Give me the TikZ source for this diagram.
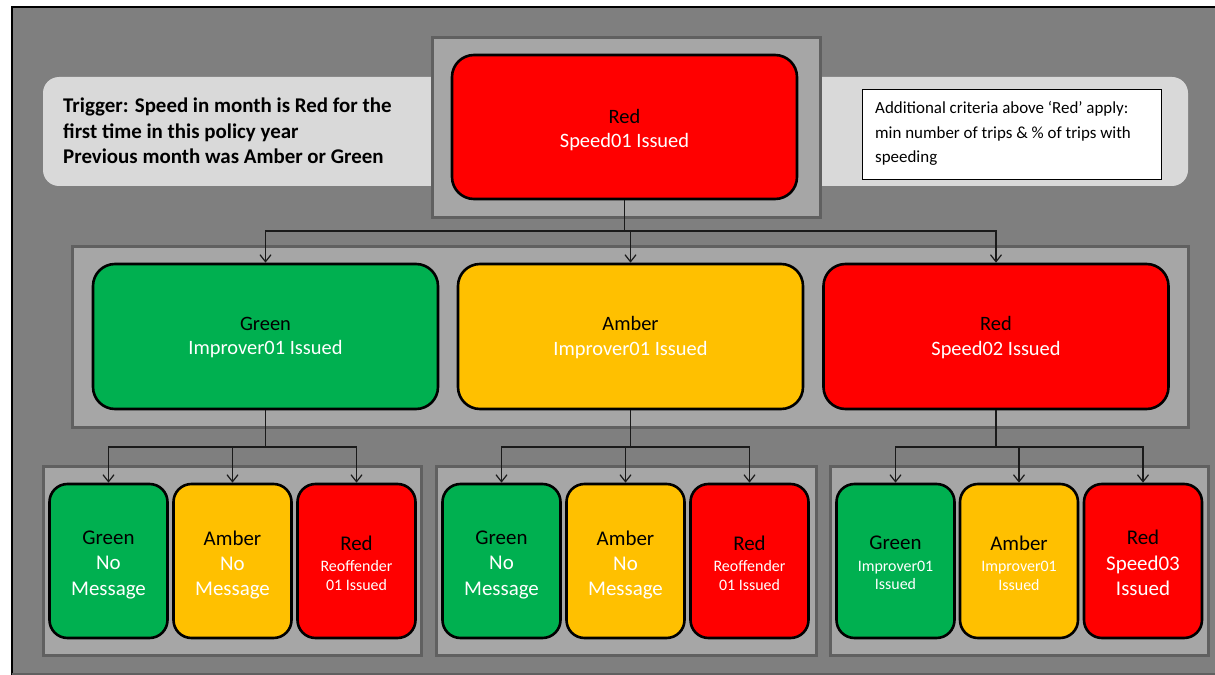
\documentclass[tikz,border=0pt]{standalone}
\usepackage{fontspec}
\setmainfont{Carlito}
\usetikzlibrary{arrows.meta}
\definecolor{bgc}{HTML}{7F7F7F}
\definecolor{panel}{HTML}{A6A6A6}
\definecolor{panelb}{HTML}{606060}
\definecolor{lightc}{HTML}{D9D9D9}
\definecolor{gr}{HTML}{00B050}
\definecolor{am}{HTML}{FFC000}
\definecolor{rd}{HTML}{FF0000}
\definecolor{ln}{HTML}{1A1A1A}
\tikzset{
  panelbox/.style={fill=panel,draw=panelb,line width=3bp},
  tl/.style={draw=black,line width=2.6bp,rounded corners=22bp,inner sep=0pt},
  big/.style={tl,minimum width=345bp,minimum height=145bp},
  small/.style={tl,rounded corners=18bp,minimum width=118bp,minimum height=154bp},
  txt/.style={inner sep=0pt,align=center},
  txtbig/.style={txt,font=\fontsize{20.5}{24.5}\selectfont},
  txtthree/.style={txt,font=\fontsize{21}{25.5}\selectfont},
  txtmix/.style={txt,font=\fontsize{16}{18.5}\selectfont},
  conn/.style={draw=ln,line width=1.2bp},
  arr/.style={conn,-{Straight Barb[length=7bp,width=11bp,line width=1.2bp]}},
}
\newcommand{\tw}[1]{\textcolor{white}{#1}}
\newcommand{\tb}[1]{\textcolor{black}{#1}}
\newcommand{\bigf}{\fontsize{21}{21}\selectfont}
\begin{document}
\begin{tikzpicture}[x=1bp,y=-1bp]
\useasboundingbox (0,0) rectangle (1215,675);
\fill[white] (0,0) rectangle (1215,675);
\fill[bgc] (12,7) rectangle (1215,675);
\draw[black,line width=2bp] (12,675) -- (12,7) -- (1215,7);
\draw[panelb,line width=1.5bp] (12,674) -- (1215,674);
% light band
\fill[lightc,rounded corners=16bp] (43,77) rectangle (1188,186);
\node[anchor=base west,inner sep=0pt,align=left,font=\bfseries\fontsize{21}{26}\selectfont] (trig) at (63,164)
 {Trigger: Speed in month is Red for the\\first time in this policy year\\Previous month was Amber or Green};
\node[draw=black,line width=0.8bp,fill=white,minimum width=299bp,minimum height=90bp,inner sep=0pt] (note) at (1011.5,134) {};
\node[anchor=base west,inner sep=0pt,align=left,font=\fontsize{17}{25}\selectfont] (notet) at (875,163)
 {Additional criteria above ‘Red’ apply:\\min number of trips \& \% of trips with\\speeding};
% top
\filldraw[panelbox] (432,38) rectangle (820,217);
\node[tl,fill=rd,minimum width=345bp,minimum height=144bp] (top) at (624.5,127) {};
\node[txtbig] (topt) at ([yshift=-3bp]top.center) {\tb{Red}\\\tw{Speed01 Issued}};
% middle
\filldraw[panelbox] (72,246) rectangle (1188,427);
\node[big,fill=gr] (mg) at (265.5,336.5) {};
\node[big,fill=am] (ma) at (630.5,336.5) {};
\node[big,fill=rd] (mr) at (996,336.5) {};
\node[txtbig] (mgt) at ([yshift=-1bp]mg.center) {\tb{Green}\\\tw{Improver01 Issued}};
\node[txtbig] (mat) at ([yshift=-1bp]ma.center) {\tb{Amber}\\\tw{Improver01 Issued}};
\node[txtbig] (mrt) at ([yshift=-1bp]mr.center) {\tb{Red}\\\tw{Speed02 Issued}};
% bottom panels
\filldraw[panelbox] (43,466) rectangle (421,655);
\filldraw[panelbox] (436,466) rectangle (816,655);
\filldraw[panelbox] (830,466) rectangle (1208,655);
\node[small,fill=gr] (g1) at (108.5,561) {};
\node[small,fill=am] (a1) at (232.5,561) {};
\node[small,fill=rd] (r1) at (356.5,561) {};
\node[small,fill=gr] (g2) at (501.5,561) {};
\node[small,fill=am] (a2) at (625.5,561) {};
\node[small,fill=rd] (r2) at (749.5,561) {};
\node[small,fill=gr] (g3) at (895.5,561) {};
\node[small,fill=am] (a3) at (1019,561) {};
\node[small,fill=rd] (r3) at (1143,561) {};
\node[txtthree] (g1t) at ([yshift=-4bp]g1.center) {\tb{Green}\\\tw{No}\\\tw{Message}};
\node[txtthree] (a1t) at ([yshift=-4bp]a1.center) {\tb{Amber}\\\tw{No}\\\tw{Message}};
\node[txtmix] (r1t) at ([yshift=-2bp]r1.center) {\bigf\tb{Red}\\[3bp]\tw{Reoffender}\\\tw{01 Issued}};
\node[txtthree] (g2t) at ([yshift=-4bp]g2.center) {\tb{Green}\\\tw{No}\\\tw{Message}};
\node[txtthree] (a2t) at ([yshift=-4bp]a2.center) {\tb{Amber}\\\tw{No}\\\tw{Message}};
\node[txtmix] (r2t) at ([yshift=-2bp]r2.center) {\bigf\tb{Red}\\[3bp]\tw{Reoffender}\\\tw{01 Issued}};
\node[txtmix] (g3t) at ([yshift=-2bp]g3.center) {\bigf\tb{Green}\\[3bp]\tw{Improver01}\\\tw{Issued}};
\node[txtmix] (a3t) at ([yshift=-2bp]a3.center) {\bigf\tb{Amber}\\[3bp]\tw{Improver01}\\\tw{Issued}};
\node[txtthree] (r3t) at ([yshift=-2bp]r3.center) {\tb{Red}\\\tw{Speed03}\\\tw{Issued}};
% connectors
\coordinate (j0) at (624.5,231);
\draw[conn] (top.south) -- (j0);
\draw[arr] (j0) -| (mg.north);
\draw[arr] (j0) -| (ma.north);
\draw[arr] (j0) -| (mr.north);
\coordinate (j1) at (265.5,447);
\draw[conn] (mg.south) -- (j1);
\draw[arr] (j1) -| (g1.north);
\draw[arr] (j1) -| (a1.north);
\draw[arr] (j1) -| (r1.north);
\coordinate (j2) at (630.5,447);
\draw[conn] (ma.south) -- (j2);
\draw[arr] (j2) -| (g2.north);
\draw[arr] (j2) -| (a2.north);
\draw[arr] (j2) -| (r2.north);
\coordinate (j3) at (996,447);
\draw[conn] (mr.south) -- (j3);
\draw[arr] (j3) -| (g3.north);
\draw[arr] (j3) -| (a3.north);
\draw[arr] (j3) -| (r3.north);
\end{tikzpicture}
\end{document}
